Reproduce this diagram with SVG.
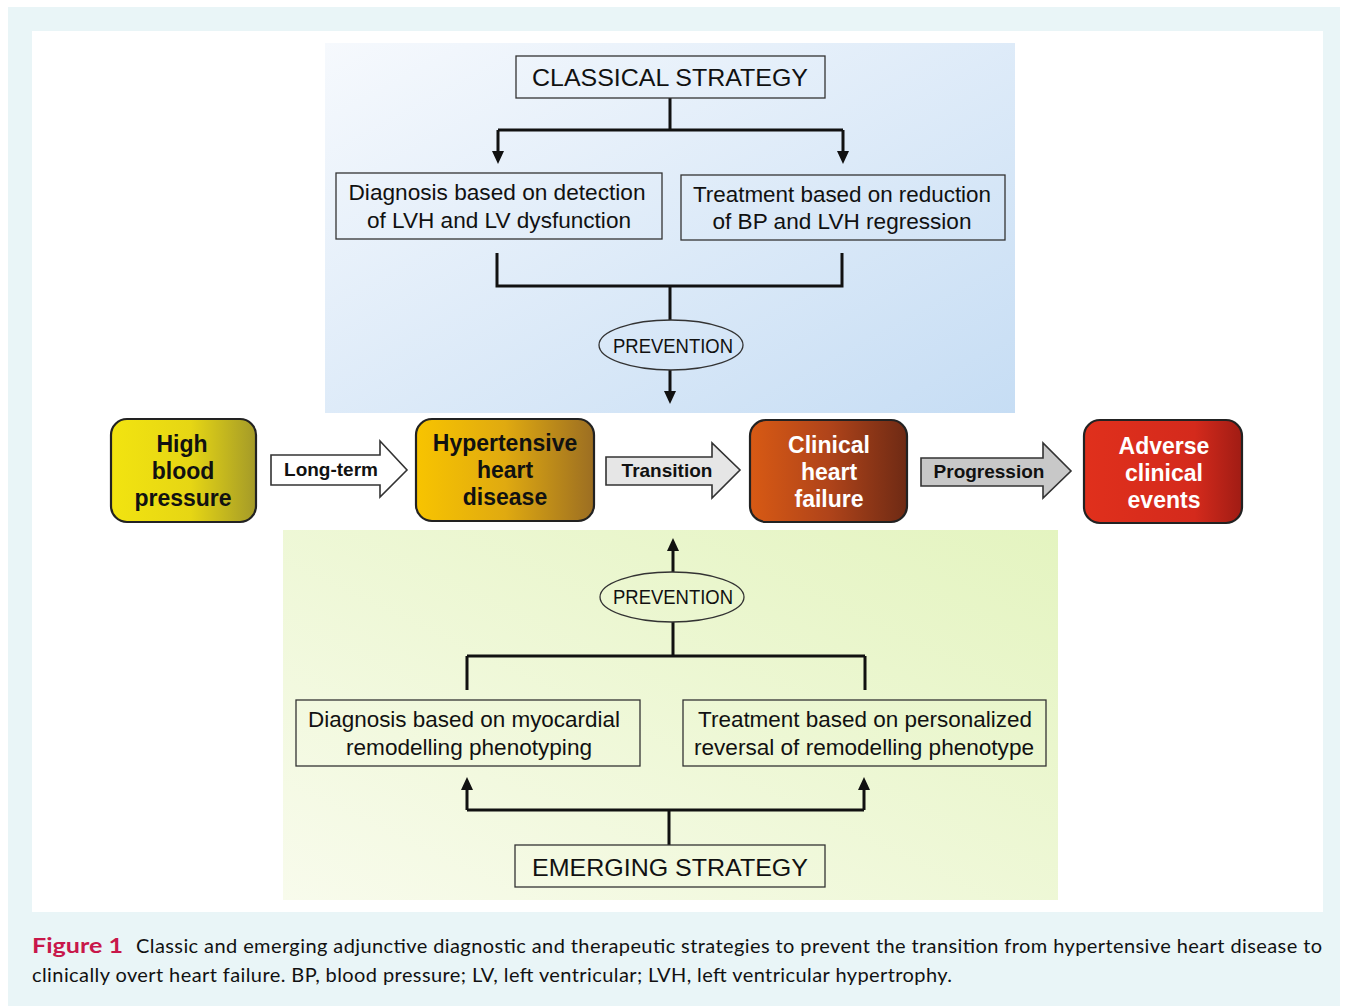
<svg xmlns="http://www.w3.org/2000/svg" width="1348" height="1006" viewBox="0 0 1348 1006">
<style>
.box{fill:none;stroke:#333;stroke-width:1.3}
.t{font-family:"Liberation Sans",Arial,sans-serif;fill:#111;text-anchor:middle}
.n{font-family:"Liberation Sans",Arial,sans-serif;font-weight:bold;font-size:23px;text-anchor:middle}
.rb{stroke:#222;stroke-width:2.2}
.con{fill:none;stroke:#111;stroke-width:3}
.blk{fill:none;stroke:#111;stroke-width:2}
.ar{stroke:#333;stroke-width:1.6}
.al{font-family:"Liberation Sans",Arial,sans-serif;font-weight:bold;font-size:19px;fill:#111;text-anchor:middle}
.cap{font-family:Lato,"Open Sans",sans-serif;font-size:20px;fill:#111}
</style>
<defs>
<linearGradient id="gBlue" x1="0" y1="0" x2="1" y2="1"><stop offset="0" stop-color="#f6f9fd"/><stop offset="1" stop-color="#c6ddf4"/></linearGradient>
<linearGradient id="gGreen" x1="1" y1="0" x2="0" y2="1"><stop offset="0" stop-color="#e4f4c0"/><stop offset="1" stop-color="#f8fbec"/></linearGradient>
<linearGradient id="g1" x1="0" y1="0" x2="1" y2="0"><stop offset="0" stop-color="#f2e410"/><stop offset="0.55" stop-color="#e6d614"/><stop offset="1" stop-color="#a49a28"/></linearGradient>
<linearGradient id="g2" x1="0" y1="0" x2="1" y2="0"><stop offset="0" stop-color="#f8c400"/><stop offset="0.5" stop-color="#e0aa10"/><stop offset="1" stop-color="#9c6e22"/></linearGradient>
<linearGradient id="g3" x1="0" y1="0" x2="1" y2="0"><stop offset="0" stop-color="#d85a14"/><stop offset="0.5" stop-color="#b0441a"/><stop offset="1" stop-color="#6e2a14"/></linearGradient>
<linearGradient id="g4" x1="0" y1="0" x2="1" y2="0"><stop offset="0" stop-color="#e0301c"/><stop offset="0.7" stop-color="#d42a1c"/><stop offset="1" stop-color="#a01c14"/></linearGradient>
<marker id="ah" viewBox="0 0 10 10" refX="9" refY="5" markerWidth="4" markerHeight="4" orient="auto" markerUnits="strokeWidth"><path d="M0,0 L10,5 L0,10 z" fill="#111"/></marker>
</defs>
<rect x="0" y="0" width="1348" height="1006" fill="#ffffff"/>
<rect x="8" y="7" width="1332" height="999" fill="#e9f5f7"/>
<rect x="32" y="31" width="1291" height="881" fill="#ffffff"/>
<rect x="325" y="43" width="690" height="370" fill="url(#gBlue)"/>
<rect x="283" y="530" width="775" height="370" fill="url(#gGreen)"/>

<g id="connectors">
<path class="con" d="M670,98 V130 M498,130 H843 M498,130 V153 M843,130 V153"/>
<path d="M492,151 L504,151 L498,164 z M837,151 L849,151 L843,164 z" fill="#111"/>
<path class="con" d="M497,253 V286 H842 V253 M670,286 V320"/>
<path class="con" d="M670,370 V393"/>
<path d="M664,391 L676,391 L670,404 z" fill="#111"/>
<path class="con" d="M673,572 V549"/>
<path d="M667,551 L679,551 L673,538 z" fill="#111"/>
<path class="con" d="M673,622 V656 M467,656 H865 M467,656 V690 M865,656 V690"/>
<path class="con" d="M669,845 V810 M467,810 H864 M467,810 V788 M864,810 V788"/>
<path d="M461,790 L473,790 L467,777 z M858,790 L870,790 L864,777 z" fill="#111"/>
</g>

<g id="classical">
<rect class="box" x="516" y="56" width="309" height="42" fill="#fff" fill-opacity="0.3"/>
<text class="t" x="670" y="86" font-size="24" textLength="276" lengthAdjust="spacingAndGlyphs">CLASSICAL  STRATEGY</text>
</g>
<g id="diag1">
<rect class="box" x="336" y="173" width="326" height="66"/>
<text class="t" x="497" y="200" font-size="22" textLength="297" lengthAdjust="spacingAndGlyphs">Diagnosis based on detection</text>
<text class="t" x="499" y="228" font-size="22" textLength="264" lengthAdjust="spacingAndGlyphs">of LVH and LV dysfunction</text>
</g>
<g id="treat1">
<rect class="box" x="681" y="175" width="324" height="65"/>
<text class="t" x="842" y="202" font-size="22" textLength="298" lengthAdjust="spacingAndGlyphs">Treatment based on reduction</text>
<text class="t" x="842" y="229" font-size="22" textLength="259" lengthAdjust="spacingAndGlyphs">of BP and  LVH regression</text>
</g>
<g id="prev1">
<ellipse cx="671" cy="345" rx="72" ry="25" fill="none" stroke="#333" stroke-width="1.3"/>
<text class="t" x="673" y="353" font-size="20" textLength="120" lengthAdjust="spacingAndGlyphs">PREVENTION</text>
</g>

<g id="hbp">
<rect class="rb" x="111" y="419" width="145" height="103" rx="16" fill="url(#g1)"/>
<text class="n" x="182" y="452" fill="#111">High</text>
<text class="n" x="183" y="479" fill="#111">blood</text>
<text class="n" x="183" y="506" fill="#111">pressure</text>
</g>
<g id="arrow-longterm">
<path class="ar" d="M271,455 H380 V441 L407,470 L380,497 V485 H271 z" fill="#ffffff"/>
<text class="al" x="331" y="476">Long-term</text>
</g>
<g id="hhd">
<rect class="rb" x="416" y="419" width="178" height="102" rx="16" fill="url(#g2)"/>
<text class="n" x="505" y="451" fill="#111">Hypertensive</text>
<text class="n" x="505" y="478" fill="#111">heart</text>
<text class="n" x="505" y="505" fill="#111">disease</text>
</g>
<g id="arrow-transition">
<path class="ar" d="M606,457 H712 V443 L740,470 L712,498 V485 H606 z" fill="#e6e6e6"/>
<text class="al" x="667" y="477">Transition</text>
</g>
<g id="chf">
<rect class="rb" x="750" y="420" width="157" height="102" rx="16" fill="url(#g3)"/>
<text class="n" x="829" y="453" fill="#fff">Clinical</text>
<text class="n" x="829" y="480" fill="#fff">heart</text>
<text class="n" x="829" y="507" fill="#fff">failure</text>
</g>
<g id="arrow-progression">
<path class="ar" d="M921,458 H1043 V443 L1071,471 L1043,498 V486 H921 z" fill="#c8c8c8"/>
<text class="al" x="989" y="478">Progression</text>
</g>
<g id="ace">
<rect class="rb" x="1084" y="420" width="158" height="103" rx="16" fill="url(#g4)"/>
<text class="n" x="1164" y="454" fill="#fff">Adverse</text>
<text class="n" x="1164" y="481" fill="#fff">clinical</text>
<text class="n" x="1164" y="508" fill="#fff">events</text>
</g>

<g id="prev2">
<ellipse cx="672" cy="597" rx="72" ry="25" fill="none" stroke="#333" stroke-width="1.3"/>
<text class="t" x="673" y="604" font-size="20" textLength="120" lengthAdjust="spacingAndGlyphs">PREVENTION</text>
</g>
<g id="diag2">
<rect class="box" x="296" y="700" width="344" height="66"/>
<text class="t" x="464" y="727" font-size="22" textLength="312" lengthAdjust="spacingAndGlyphs">Diagnosis based on myocardial</text>
<text class="t" x="469" y="755" font-size="22" textLength="246" lengthAdjust="spacingAndGlyphs">remodelling phenotyping</text>
</g>
<g id="treat2">
<rect class="box" x="683" y="700" width="363" height="66"/>
<text class="t" x="865" y="727" font-size="22" textLength="334" lengthAdjust="spacingAndGlyphs">Treatment based on personalized</text>
<text class="t" x="864" y="755" font-size="22" textLength="340" lengthAdjust="spacingAndGlyphs">reversal of remodelling phenotype</text>
</g>
<g id="emerging">
<rect class="box" x="515" y="845" width="310" height="42"/>
<text class="t" x="670" y="876" font-size="24" textLength="276" lengthAdjust="spacingAndGlyphs">EMERGING  STRATEGY</text>
</g>

<g id="caption">
<text class="cap" x="32" y="953" font-size="24" font-weight="bold" fill="#c8174a" style="fill:#c8174a" textLength="91" lengthAdjust="spacingAndGlyphs">Figure 1</text>
<text class="cap" x="136" y="953" textLength="1186" lengthAdjust="spacing">Classic and emerging adjunctive diagnostic and therapeutic strategies to prevent the transition from hypertensive heart disease to</text>
<text class="cap" x="32" y="982" textLength="920" lengthAdjust="spacing">clinically overt heart failure. BP, blood pressure; LV, left ventricular; LVH, left ventricular hypertrophy.</text>
</g>
</svg>
